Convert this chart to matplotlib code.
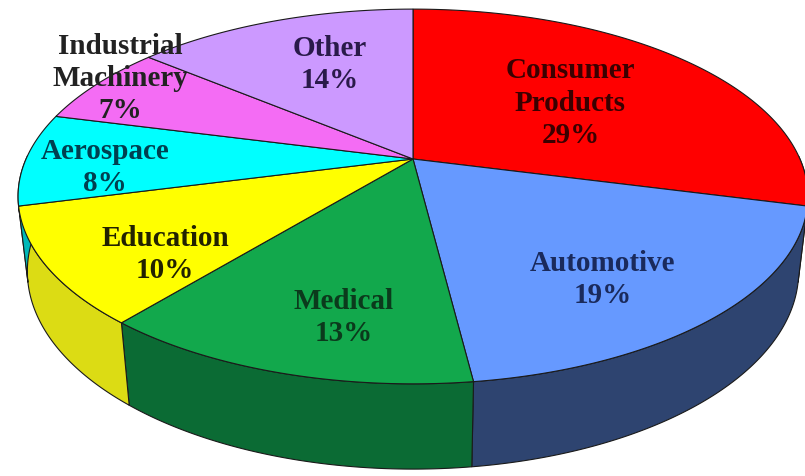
import matplotlib.pyplot as plt
from matplotlib.patches import Polygon
import numpy as np

labels = ['Consumer\nProducts', 'Automotive', 'Medical', 'Education',
          'Aerospace', 'Industrial\nMachinery', 'Other']
shares = [29, 19, 13, 10, 8, 7, 14]

top_colors = ['#ff0000', '#6699ff', '#12a84c', '#ffff00',
              '#00ffff', '#f46cf4', '#cc99ff']
side_colors = ['#b00000', '#2e4470', '#0b6b34', '#dcdc14',
               '#00b8b8', '#b040b0', '#9070c0']
text_colors = ['#3a0000', '#1a2a5c', '#0b3a1c', '#222200',
               '#004050', '#222222', '#2a1a4a']

# camera set-up for the tilted disc (pixel space)
elev = np.radians(27.7)
se, ce = np.sin(elev), np.cos(elev)
D = 5.0 * ce
F = 1713.0
cx, cy = 413.0, 160.0
h = 0.22


def proj(theta, r=1.0, z=0.0):
    x = r * np.cos(theta)
    y = r * np.sin(theta)
    v = y * se + z * ce
    depth = D + y * ce - z * se
    return cx + F * x / depth, cy - F * v / depth


fig = plt.figure(figsize=(8.05, 4.77), dpi=100)
ax = fig.add_axes([0, 0, 1, 1])
ax.set_xlim(0, 805)
ax.set_ylim(477, 0)
ax.axis('off')

fracs = np.array(shares) / sum(shares)
ends = np.pi / 2 - 2 * np.pi * np.cumsum(fracs)
starts = np.concatenate([[np.pi / 2], ends[:-1]])

# side walls (front half only)
for i in range(len(shares)):
    a0, a1 = starts[i], ends[i]
    t = np.linspace(a0, a1, 200)
    t = t[np.sin(t) < 0.02]
    if len(t) < 2:
        continue
    xt, yt = proj(t)
    xb, yb = proj(t, z=-h)
    pts = np.column_stack([np.concatenate([xt, xb[::-1]]),
                           np.concatenate([yt, yb[::-1]])])
    ax.add_patch(Polygon(pts, closed=True, fc=side_colors[i],
                         ec='#1a1a1a', lw=0.8, zorder=1))

# top face
for i in range(len(shares)):
    t = np.linspace(starts[i], ends[i], 200)
    xs, ys = proj(t)
    pts = np.column_stack([np.concatenate([[cx], xs]),
                           np.concatenate([[cy], ys])])
    ax.add_patch(Polygon(pts, closed=True, fc=top_colors[i],
                         ec='#1a1a1a', lw=0.8, zorder=2))

# labels: radius fraction and angular nudge (degrees) per slice
label_r = [0.55, 0.73, 0.76, 0.75, 0.79, 0.97, 0.64]
label_da = [0, -5, 4.6, 7, 3, -4, -3]
for i in range(len(shares)):
    mid = (starts[i] + ends[i]) / 2 + np.radians(label_da[i])
    lx, ly = proj(mid, r=label_r[i])
    ax.text(lx, ly, f'{labels[i]}\n{shares[i]}%', ha='center', va='center',
            fontsize=21, fontweight='bold', family='Liberation Serif',
            color=text_colors[i], linespacing=1.25, zorder=3)

fig.savefig('out.png', dpi=100)
